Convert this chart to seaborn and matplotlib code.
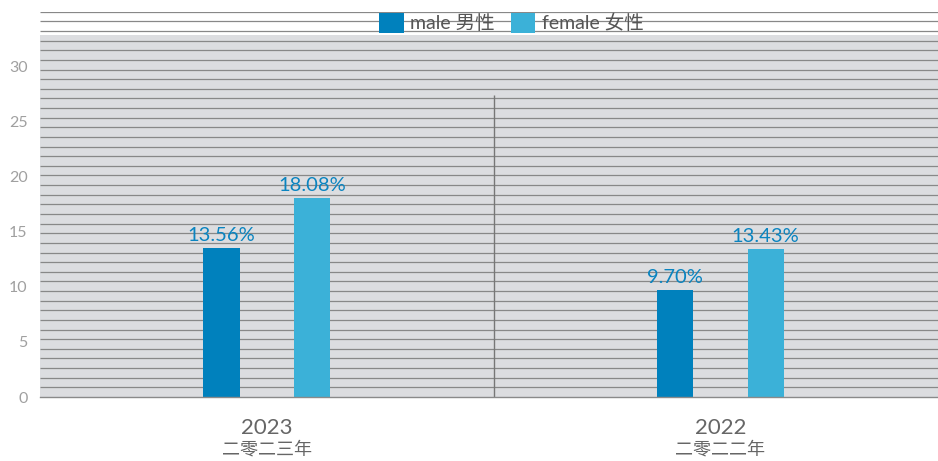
import numpy as np
import pandas as pd
import seaborn as sns
import matplotlib.pyplot as plt
from matplotlib.transforms import blended_transform_factory

# data
years = ['2023', '2022']
years_cn = ['二零二三年', '二零二二年']
male = [13.56, 9.70]
female = [18.08, 13.43]
series_names = ['male 男性', 'female 女性']
y_ticks = [0, 5, 10, 15, 20, 25, 30]

df = pd.DataFrame({
    'year': years * 2,
    'value': male + female,
    'sex': [series_names[0]] * len(years) + [series_names[1]] * len(years),
})

male_c = '#0081bd'
female_c = '#3bb1d8'
bg_c = '#dcdde0'
grid_c = '#888888'

sns.set_style('white')
plt.rcParams['font.family'] = ['Lato', 'Noto Sans CJK SC']

fig = plt.figure(figsize=(9.38, 4.61), dpi=100)
ax = fig.add_axes([0.0426, 0.1388, 0.9574, 0.8358])

sns.barplot(data=df, x='year', y='value', hue='sex',
            palette=[male_c, female_c], width=0.4, gap=0.6,
            saturation=1, linewidth=0, ax=ax, zorder=2)

# grey band + dense horizontal rules
ax.axhspan(0, 32.9, color=bg_c, zorder=0, lw=0)
ax.hlines(np.arange(0.875, 35.01, 0.875), -0.5, 1.5, color=grid_c, lw=0.9, zorder=0.5)
ax.vlines(0.5, 0, 27.4, color='#777777', lw=1, zorder=0.6)

for cont in ax.containers:
    ax.bar_label(cont, labels=[f'{b.get_height():.2f}%' for b in cont],
                 padding=3, color='#0a84c0', fontsize=14.5)

ax.set_xlim(-0.5, 1.48)
ax.set_ylim(0, 35)
ax.set_yticks(y_ticks)
ax.set_yticklabels([str(t) for t in y_ticks], fontsize=11.5, color='#a0a0a0')
ax.set_xticks(range(len(years)))
ax.set_xticklabels(years, fontsize=16, color='#666666')
ax.tick_params(axis='x', length=0, pad=15)
ax.tick_params(axis='y', length=0, pad=9)
ax.set_xlabel('')
ax.set_ylabel('')

trans = blended_transform_factory(ax.transData, ax.transAxes)
for i, cn in enumerate(years_cn):
    ax.text(i, -0.135, cn, ha='center', va='center', fontsize=13,
            color='#666666', transform=trans)

for s in ['top', 'right', 'left']:
    ax.spines[s].set_visible(False)
ax.spines['bottom'].set_color('#8a8a8a')
ax.spines['bottom'].set_linewidth(1)

ax.legend(loc='center', bbox_to_anchor=(0.525, 0.971), ncol=2, frameon=False,
          fontsize=14, handlelength=1.25, handleheight=1.25, handletextpad=0.35,
          columnspacing=0.8, labelcolor='#555555', borderpad=0)

fig.savefig('out.png', dpi=100)
